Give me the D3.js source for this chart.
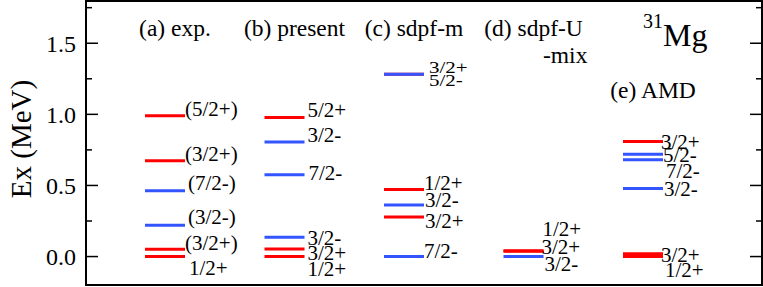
<!DOCTYPE html>
<html>
<head>
<meta charset="utf-8">
<script src="https://cdn.jsdelivr.net/npm/d3@7"></script>
<style>
  body { margin: 0; background: #fff; }
  text { font-family: "Liberation Serif", "Times New Roman", "DejaVu Serif", serif; fill: #000; }
</style>
</head>
<body>
<svg id="chart" width="763" height="287"></svg>
<script>
// level energies (MeV) and spins for each calculation
const titles = ["(a) exp.", "(b) present", "(c) sdpf-m", "(d) sdpf-U", "(e) AMD"];

const expE = [0, 0.051, 0.221, 0.463, 0.674, 0.99];
const expJ = ["1/2+", "(3/2+)", "(3/2-)", "(7/2-)", "(3/2+)", "(5/2+)"];

const presentE = [0, 0.054, 0.135, 0.575, 0.805, 0.978];
const presentJ = ["1/2+", "3/2+", "3/2-", "7/2-", "3/2-", "5/2+"];

const sdpfmE = [0, 0.279, 0.363, 0.472, 1.282, 1.282];
const sdpfmJ = ["7/2-", "3/2+", "3/2-", "1/2+", "3/2+", "5/2-"];

const sdpfuE = [0, 0.037, 0.04];
const sdpfuJ = ["3/2-", "3/2+", "1/2+"];

const amdE = [0, 0.02, 0.479, 0.68, 0.72, 0.809];
const amdJ = ["1/2+", "3/2+", "3/2-", "7/2-", "5/2-", "3/2+"];

const yTicks = [0, 0.5, 1.0, 1.5];
const yMinor = [0.25, 0.75, 1.25, 1.75];

// label nudges [dx, dy, squash] in px, same order as the levels (layout only)
const nudges = [
  [[4, 11], [0, -7], [3, -8], [3, -8], [0, -7], [0, -7]],
  [[3, 12], [3, 4], [3, 0], [4, -2], [3, -7], [3, -8]],
  [[0, -6], [1, 4], [1, -5], [0, -7], [5, -7, 0.8], [5, 6, 0.8]],
  [[1, 7], [-2, -5], [-1, -22]],
  [[2, 13], [-2, 1], [1, 0], [3, 11], [0, 0], [-2, 0]]
];

const cols = [
  {E: expE, J: expJ},
  {E: presentE, J: presentJ},
  {E: sdpfmE, J: sdpfmJ},
  {E: sdpfuE, J: sdpfuJ},
  {E: amdE, J: amdJ}
];

const svg = d3.select("#chart");
const frame = {left: 86, right: 762, top: 1, bottom: 285};
const lineLen = 40;

const y = d3.scaleLinear().domain([-0.2, 1.8]).range([frame.bottom, frame.top - 0.43]);
const x = d3.scaleLinear().domain([0, 4]).range([145, 623]);

const red = "#ff0000", blue = "#3355ff";
const colour = j => j.includes("+") ? red : blue;

// frame
svg.append("rect")
  .attr("x", frame.left).attr("y", frame.top)
  .attr("width", frame.right - frame.left).attr("height", frame.bottom - frame.top)
  .attr("fill", "none").attr("stroke", "#000").attr("stroke-width", 2);

// ticks, left and right, pointing inward
const tickG = svg.append("g").attr("stroke", "#000").attr("stroke-width", 1.5);
[[yTicks, 12], [yMinor, 6]].forEach(([vals, len]) => {
  tickG.selectAll(null).data(vals).enter().append("line")
    .attr("x1", frame.left).attr("x2", frame.left + len)
    .attr("y1", d => y(d)).attr("y2", d => y(d));
  tickG.selectAll(null).data(vals).enter().append("line")
    .attr("x1", frame.right).attr("x2", frame.right - len)
    .attr("y1", d => y(d)).attr("y2", d => y(d));
});

svg.selectAll(".tl").data(yTicks).enter().append("text")
  .attr("x", 76).attr("y", d => y(d)).attr("dy", "0.35em")
  .attr("text-anchor", "end").style("font-size", "24px")
  .text(d3.format(".1f"));

svg.append("text")
  .attr("transform", "translate(31,139) rotate(-90)")
  .attr("text-anchor", "middle").style("font-size", "29px")
  .text("Ex (MeV)");

// column titles
titles.forEach((t, i) => {
  svg.append("text")
    .attr("x", x(i) + lineLen / 2 + 10)
    .attr("y", i === 4 ? 98 : 36)
    .attr("text-anchor", "middle").style("font-size", "23.5px")
    .text(t);
});
svg.append("text").attr("x", 543).attr("y", 63).style("font-size", "23.5px").text("-mix");

const nuc = svg.append("text").attr("x", 643).attr("y", 46);
nuc.append("tspan").attr("dy", -18).style("font-size", "20px").text("31");
nuc.append("tspan").attr("dy", 18).style("font-size", "32px").text("Mg");

// levels and labels
cols.forEach((c, i) => {
  const levels = c.E.map((e, k) => ({e, j: c.J[k], n: nudges[i][k]}));
  const g = svg.append("g");
  g.selectAll("line").data(levels).enter().append("line")
    .attr("x1", x(i)).attr("x2", x(i) + lineLen)
    .attr("y1", d => y(d.e)).attr("y2", d => y(d.e))
    .attr("stroke", d => colour(d.j)).attr("stroke-width", 3);
  g.selectAll("text").data(levels).enter().append("text")
    .attr("transform", d => `translate(${x(i) + lineLen + d.n[0]},${y(d.e) + d.n[1]}) scale(1,${d.n[2] || 1})`)
    .attr("dy", "0.35em").style("font-size", "21px")
    .text(d => d.j);
});
</script>
</body>
</html>
